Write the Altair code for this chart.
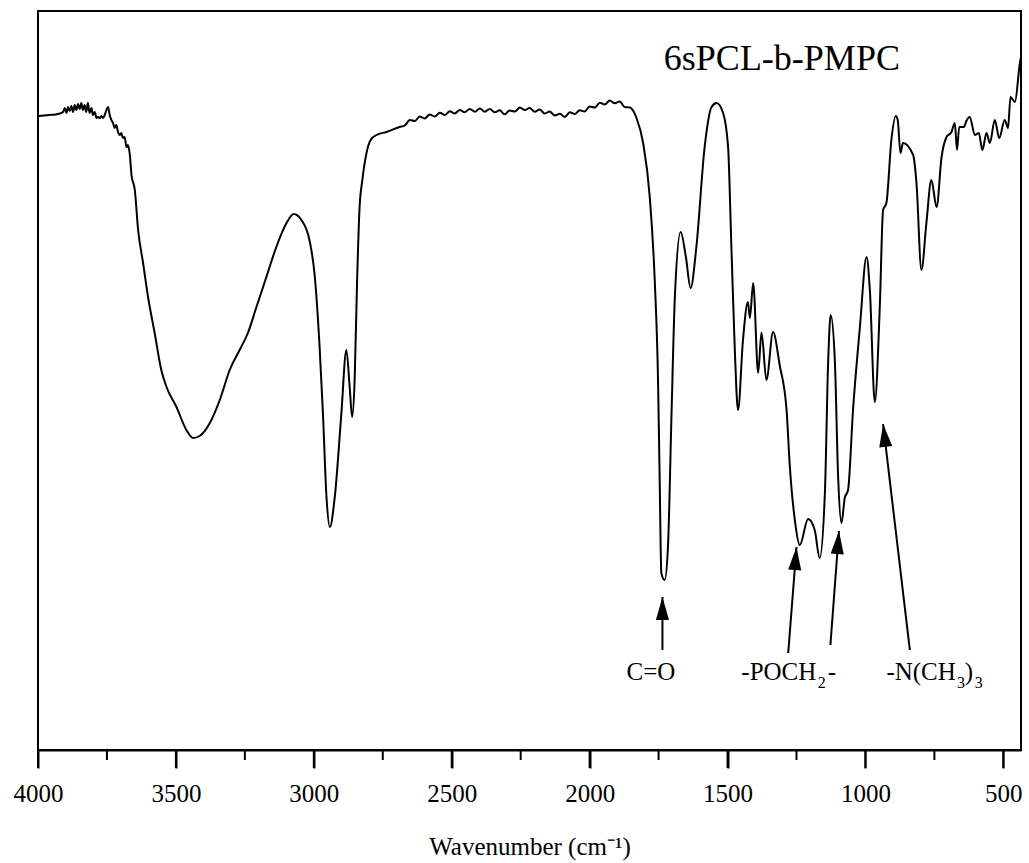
import altair as alt
import pandas as pd

FONT = "Liberation Serif"

# ---- spectrum (wavenumber in cm-1, transmittance in arbitrary units) ----
wavenumber = [
    4000, 3958, 3936, 3921, 3909, 3903, 3897, 3891, 3885, 3879, 3873, 3867, 3861, 3855,
    3849, 3843, 3837, 3831, 3825, 3819, 3813, 3806, 3801, 3794, 3788, 3782, 3776, 3770,
    3764, 3758, 3752, 3746, 3740, 3734, 3728, 3722, 3716, 3710, 3704, 3698, 3692, 3686,
    3679, 3674, 3667, 3661, 3649, 3637, 3619, 3601, 3577, 3553, 3534, 3498, 3462, 3438,
    3414, 3377, 3341, 3305, 3269, 3239, 3208, 3172, 3136, 3099, 3073, 3045, 3015, 2997,
    2979, 2967, 2954, 2942, 2924, 2900, 2882, 2870, 2861, 2852, 2843, 2834, 2824, 2809,
    2794, 2773, 2737, 2689,
    2670, 2652, 2634, 2616, 2598, 2580, 2562, 2543, 2525, 2507, 2489, 2471, 2453, 2435,
    2416, 2398, 2380, 2362, 2344, 2326, 2308, 2290, 2271, 2253, 2235, 2217, 2199, 2181,
    2163, 2145, 2126, 2108, 2090, 2072, 2054, 2036, 2018, 2000, 1981, 1963, 1945, 1927,
    1909, 1891, 1873, 1854,
    1830, 1806, 1782, 1764, 1752, 1746, 1740, 1728, 1716, 1703, 1691, 1670, 1651, 1634,
    1613, 1583, 1558, 1540, 1516, 1498, 1486, 1474, 1462, 1444, 1426, 1419, 1407, 1389,
    1377, 1359, 1335, 1311, 1286, 1274, 1256, 1238, 1208, 1184, 1166, 1147, 1135, 1126,
    1111, 1099, 1087, 1075, 1063, 1045, 1020, 996, 984, 966, 948, 936, 924, 906,
    890, 883, 873, 864, 827, 815, 797, 779, 761, 742, 724, 706, 688, 676,
    668, 660, 643, 634, 622, 603, 589, 576, 561, 549, 531, 515, 495, 483,
    474, 458, 440, 436,
]
transmittance = [
    63.4, 63.5, 63.55, 63.65, 63.8, 64.2, 63.7, 64.3, 63.9, 64.4, 63.8, 64.5, 64.0, 64.6,
    64.1, 64.7, 64.0, 64.5, 63.8, 64.7, 63.7, 64.2, 63.5, 63.8, 63.2, 63.3, 63.2, 63.4,
    63.2, 63.5, 64.0, 64.3, 63.5, 63.0, 62.7, 62.2, 62.5, 61.8, 61.5, 61.7, 61.2, 61.3,
    60.3, 60.5, 59.5, 57.5, 56.0, 52.0, 48.7, 45.3, 41.7, 38.0, 36.3, 34.3, 32.0, 31.2,
    31.4, 32.7, 35.0, 38.0, 40.0, 41.7, 44.3, 47.3, 50.3, 52.7, 53.6, 53.0, 50.9, 47.5,
    40.3, 33.7, 25.3, 22.3, 25.3, 33.7, 40.0, 36.3, 33.3, 37.0, 47.0, 54.3, 57.0, 59.7,
    61.0, 61.5, 61.8, 62.3,
    62.45, 63.0, 62.9, 63.35, 63.15, 63.55, 63.35, 63.73, 63.51, 63.88, 63.65, 64.01, 63.77, 64.11,
    63.83, 64.15, 63.83, 64.11, 63.77, 63.97, 63.57, 63.95, 63.85, 64.25, 63.99, 64.21, 63.82, 64.05,
    63.65, 63.85, 63.45, 63.62, 63.3, 63.77, 63.6, 63.98, 63.85, 64.35, 64.25, 64.72, 64.55, 64.95,
    64.67, 64.85, 64.3, 64.25,
    63.2, 60.7, 55.3, 47.0, 37.0, 27.0, 17.7, 17.0, 20.3, 33.7, 45.3, 51.8, 49.3, 46.2,
    50.3, 60.3, 64.3, 64.7, 63.7, 60.3, 50.3, 40.3, 34.0, 41.0, 44.8, 43.2, 46.7, 37.7,
    41.75, 37.0, 41.8, 38.5, 34.0, 28.3, 23.0, 20.5, 23.1, 22.0, 19.2, 25.7, 39.0, 43.5,
    39.0, 27.3, 22.7, 25.2, 26.0, 34.0, 42.3, 49.3, 46.0, 34.8, 44.3, 54.0, 54.7, 61.0,
    63.4, 63.0, 59.7, 60.7, 59.5, 56.7, 48.0, 52.7, 57.0, 54.3, 59.3, 61.3, 61.8, 62.7,
    60.0, 62.3, 62.3, 62.9, 63.3, 61.5, 61.7, 60.0, 61.7, 60.7, 63.0, 61.2, 63.0, 62.2,
    65.3, 64.8, 68.7, 69.3,
]

# ---- axis ticks ----
major_ticks = [4000, 3500, 3000, 2500, 2000, 1500, 1000, 500]
minor_ticks = [3750, 3250, 2750, 2250, 1750, 1250, 750]
major_len = 1.8   # tick length in y-units (below the axis)
minor_len = 1.0

# ---- sample title ----
title_text = ["6sPCL-b-PMPC"]
title_wn = [1303]
title_t = [68.0]

# ---- annotation labels (pieces, with subscripts) ----
ann_text = ["C=O", "-POCH", "2", "-", "-N(CH", "3", ")", "3"]
ann_wn = [1866, 1450, 1173, 1137, 924, 668, 640, 604]
ann_t = [7.0, 7.0, 6.2, 7.0, 7.0, 6.2, 7.0, 6.2]
ann_size = [25, 25, 16, 25, 25, 16, 25, 16]

# ---- arrows (tail -> tip) ----
arrow_tail_wn = [1736, 1280, 1127, 839]
arrow_tail_t = [10.0, 9.7, 10.5, 10.0]
arrow_tip_wn = [1736, 1250, 1096, 936]
arrow_tip_t = [15.3, 20.3, 21.9, 32.6]
arrow_angle = [0, 4.5, 4.3, 353.3]

x_scale = alt.Scale(domain=[4000, 436], nice=False, zero=False)
y_scale = alt.Scale(domain=[0, 73.9], nice=False, zero=False)

x_axis = alt.Axis(
    values=major_ticks,
    format="d",
    grid=False,
    ticks=True,
    tickSize=18,
    tickWidth=2,
    tickColor="black",
    domainColor="black",
    domainWidth=2,
    labelFont=FONT,
    labelFontSize=25,
    labelColor="black",
    labelPadding=13,
    labelFlush=False,
    labelOverlap=False,
    title="Wavenumber (cm\u207b\u00b9)",
    titleFont=FONT,
    titleFontSize=25,
    titleFontWeight="normal",
    titleColor="black",
    titleBaseline="alphabetic",
    titleY=104,
)


def xenc(field):
    return alt.X(field, type="quantitative", scale=x_scale, axis=x_axis)


def yenc(field):
    return alt.Y(field, type="quantitative", scale=y_scale, axis=None)


spec = pd.DataFrame({"wn": wavenumber, "t": transmittance})
line = alt.Chart(spec).mark_line(
    color="black", strokeWidth=2, interpolate="monotone"
).encode(x=xenc("wn"), y=yenc("t"))

tick_df = pd.DataFrame({
    "wn": major_ticks + minor_ticks,
    "y0": [0] * (len(major_ticks) + len(minor_ticks)),
    "y1": [-major_len] * len(major_ticks) + [-minor_len] * len(minor_ticks),
})
ticks = alt.Chart(tick_df).mark_rule(color="black", strokeWidth=2).encode(
    x=xenc("wn"), y=yenc("y0"), y2="y1:Q",
)

title_df = pd.DataFrame({"wn": title_wn, "t": title_t, "label": title_text})
title = alt.Chart(title_df).mark_text(
    font=FONT, fontSize=36, align="center", baseline="alphabetic", color="black"
).encode(x=xenc("wn"), y=yenc("t"), text="label:N")

ann_df = pd.DataFrame({"wn": ann_wn, "t": ann_t, "label": ann_text, "fs": ann_size})
ann = alt.Chart(ann_df).mark_text(
    font=FONT, align="left", baseline="alphabetic", color="black"
).encode(
    x=xenc("wn"), y=yenc("t"), text="label:N",
    size=alt.Size("fs:Q", scale=None, legend=None),
)

arrow_df = pd.DataFrame({
    "wn": arrow_tail_wn, "t": arrow_tail_t,
    "wn2": arrow_tip_wn, "t2": arrow_tip_t,
    "ang": arrow_angle,
})
shafts = alt.Chart(arrow_df).mark_rule(color="black", strokeWidth=2).encode(
    x=xenc("wn"), y=yenc("t"), x2="wn2:Q", y2="t2:Q",
)
heads = alt.Chart(arrow_df).mark_point(
    shape="M0,0L0.57,2L-0.57,2Z", filled=True, color="black", size=529,
    opacity=1, strokeWidth=0,
).encode(
    x=xenc("wn2"), y=yenc("t2"),
    angle=alt.Angle("ang:Q", scale=None),
)

chart = alt.layer(line, ticks, title, ann, shafts, heads).properties(
    width=983,
    height=739,
    padding={"left": 38, "top": 11, "right": 8, "bottom": 113},
    autosize=alt.AutoSizeParams(type="none"),
    background="white",
).configure_view(
    stroke="black", strokeWidth=2
).configure_axis(
    labelFont=FONT, titleFont=FONT
).configure_text(font=FONT)

chart.save("out.html", embed_options={"renderer": "svg", "actions": False})
